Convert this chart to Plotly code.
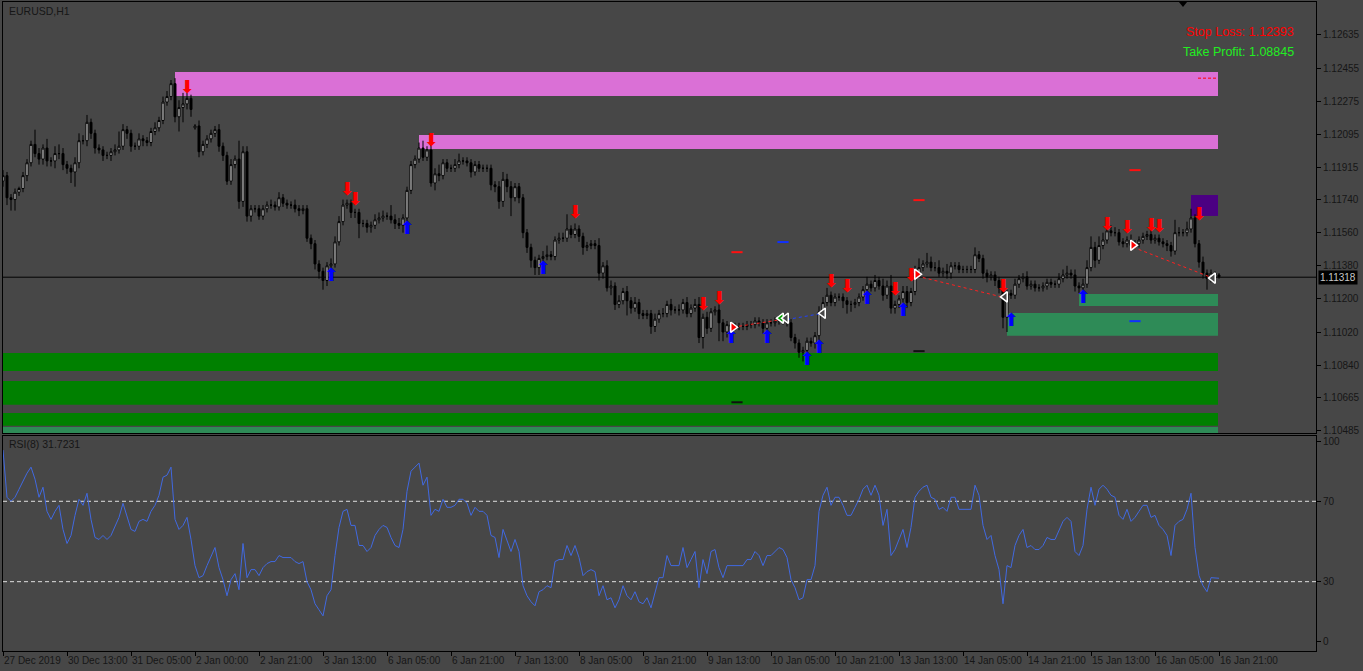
import plotly.graph_objects as go

# ---------------- DATA ----------------
BASE = 1.1000          # prices are given in pips above this base
PIP = 0.0001

close_pips = [
    187, 175, 174, 178, 180, 187, 194, 204, 199, 196,
    202, 195, 195, 199, 199, 193, 191, 189, 194, 206,
    206, 216, 210, 202, 201, 198, 198, 200, 201, 203,
    212, 210, 203, 203, 207, 206, 205, 211, 213, 217,
    227, 230, 237, 219, 224, 226, 229, 223, 214, 200,
    204, 207, 210, 212, 203, 198, 184, 193, 196, 173,
    200, 165, 169, 169, 165, 169, 171, 171, 170, 175,
    172, 171, 171, 169, 168, 169, 153, 150, 139, 135,
    130, 138, 139, 151, 162, 171, 172, 167, 167, 161,
    161, 159, 160, 163, 164, 165, 165, 163, 161, 160,
    164, 179, 193, 196, 202, 197, 201, 183, 188, 187,
    194, 191, 191, 193, 195, 195, 194, 189, 193, 191,
    191, 191, 182, 181, 173, 185, 181, 175, 181, 175,
    156, 148, 141, 137, 142, 143, 144, 143, 152, 153,
    153, 158, 155, 158, 154, 148, 149, 150, 149, 134,
    138, 126, 127, 117, 119, 124, 119, 115, 118, 112,
    111, 112, 105, 109, 112, 112, 117, 114, 114, 114,
    118, 112, 115, 117, 99, 110, 104, 113, 114, 107,
    102, 106, 105, 105, 105, 105, 106, 106, 108, 107,
    104, 107, 107, 108, 109, 108, 107, 99, 96, 91,
    92, 97, 96, 100, 113, 118, 122, 118, 121, 121,
    119, 117, 117, 118, 121, 125, 128, 126, 130, 127,
    122, 127, 115, 117, 120, 124, 118, 124, 134, 137,
    139, 140, 137, 137, 134, 135, 134, 138, 138, 136,
    136, 136, 136, 144, 142, 134, 132, 133, 130, 126,
    110, 123, 122, 128, 131, 132, 127, 128, 126, 126,
    127, 129, 128, 128, 131, 133, 134, 133, 127, 126,
    128, 137, 148, 141, 149, 152, 157, 156, 156, 151,
    150, 152, 149, 150, 152, 154, 155, 152, 153, 151,
    150, 149, 146, 156, 156, 156, 158, 164, 150, 140,
    134, 131, 134, 133, 132,
]
upper_wick_pips = [
    3, 2, 2, 2, 1, 2, 2, 2, 8, 3,
    2, 5, 2, 4, 5, 3, 2, 2, 3, 4,
    3, 4, 2, 2, 2, 2, 2, 2, 3, 8,
    3, 2, 2, 2, 3, 2, 2, 2, 3, 2,
    3, 3, 2, 3, 4, 6, 3, 2, 1, 3,
    2, 2, 2, 2, 3, 2, 2, 3, 2, 10,
    3, 3, 2, 2, 2, 2, 2, 3, 2, 3,
    2, 2, 2, 3, 2, 2, 2, 2, 2, 2,
    2, 2, 3, 3, 3, 3, 2, 2, 2, 2,
    2, 2, 2, 3, 3, 3, 2, 6, 3, 3,
    2, 2, 2, 2, 3, 4, 2, 4, 3, 5,
    2, 2, 2, 3, 4, 2, 2, 2, 2, 2,
    2, 2, 2, 2, 3, 4, 3, 3, 2, 2,
    2, 2, 2, 2, 2, 3, 5, 2, 2, 3,
    3, 8, 2, 3, 2, 2, 2, 2, 2, 4,
    2, 3, 3, 2, 3, 2, 3, 2, 3, 2,
    2, 2, 2, 3, 2, 3, 2, 3, 2, 3,
    2, 3, 2, 3, 4, 2, 3, 2, 2, 3,
    2, 2, 2, 2, 2, 2, 2, 2, 2, 2,
    2, 2, 2, 2, 2, 2, 2, 2, 2, 2,
    2, 2, 2, 2, 3, 3, 4, 2, 2, 2,
    2, 2, 2, 2, 2, 2, 4, 2, 3, 2,
    4, 3, 6, 2, 2, 3, 3, 2, 4, 5,
    2, 5, 3, 3, 4, 2, 4, 2, 2, 2,
    2, 2, 2, 4, 2, 2, 2, 2, 2, 2,
    3, 2, 2, 3, 2, 2, 3, 2, 2, 2,
    2, 2, 2, 2, 3, 3, 4, 2, 3, 2,
    3, 4, 6, 3, 5, 4, 5, 3, 3, 2,
    2, 2, 3, 2, 2, 2, 2, 4, 2, 2,
    2, 2, 2, 7, 3, 2, 4, 5, 2, 2,
    3, 2, 2, 1, 1,
]
lower_wick_pips = [
    3, 4, 6, 6, 2, 2, 3, 2, 2, 3,
    3, 3, 3, 4, 3, 3, 3, 6, 8, 3,
    2, 3, 3, 3, 2, 3, 2, 3, 2, 2,
    2, 3, 3, 2, 2, 3, 2, 2, 2, 2,
    2, 2, 2, 3, 8, 8, 3, 4, 1, 3,
    2, 2, 2, 2, 3, 3, 2, 2, 2, 4,
    3, 3, 3, 2, 2, 2, 2, 2, 2, 2,
    2, 2, 2, 2, 3, 2, 2, 3, 3, 4,
    5, 3, 3, 2, 2, 2, 2, 3, 3, 8,
    2, 3, 3, 2, 2, 2, 2, 2, 3, 2,
    4, 3, 2, 2, 2, 2, 2, 2, 4, 3,
    2, 2, 2, 2, 2, 2, 2, 3, 2, 2,
    2, 2, 3, 3, 4, 3, 3, 10, 2, 3,
    3, 3, 4, 4, 4, 2, 2, 2, 2, 2,
    2, 2, 2, 2, 3, 4, 2, 2, 2, 4,
    3, 2, 4, 3, 2, 2, 8, 3, 2, 3,
    2, 2, 4, 3, 2, 2, 2, 3, 2, 3,
    2, 2, 2, 2, 3, 6, 3, 2, 2, 10,
    5, 3, 2, 2, 2, 2, 2, 2, 2, 2,
    3, 2, 2, 2, 2, 2, 2, 2, 3, 3,
    5, 3, 2, 3, 3, 2, 2, 2, 2, 2,
    4, 5, 4, 2, 2, 2, 2, 2, 2, 2,
    3, 2, 3, 3, 2, 2, 3, 2, 2, 2,
    2, 2, 2, 2, 2, 2, 3, 3, 2, 2,
    2, 2, 2, 2, 2, 3, 3, 2, 3, 3,
    6, 8, 2, 2, 2, 2, 2, 2, 2, 2,
    2, 2, 2, 2, 2, 2, 2, 2, 3, 3,
    3, 2, 2, 4, 2, 2, 2, 2, 2, 2,
    2, 2, 2, 2, 2, 2, 2, 2, 2, 2,
    2, 3, 3, 2, 2, 2, 2, 2, 2, 3,
    3, 6, 2, 2, 1,
]
first_open_pips = 184
gap_open_pips = {48: 213}

# RSI(8) values, one per bar
rsi_values = [
    95.5, 72, 70, 72, 76, 80, 84, 87, 81, 72,
    77, 65, 61, 65, 68, 56, 49, 53, 63, 71,
    68, 74, 61, 52, 51, 53, 51, 53, 58, 62,
    69, 63, 56, 55, 60, 61, 60, 65, 68, 73,
    82, 83, 87, 61, 56, 58, 62, 51, 38, 32,
    33, 38, 43, 47, 37, 31, 23, 31, 34, 26,
    49, 32, 36, 36, 33, 37, 39, 40, 40, 43,
    42, 42, 42, 40, 39, 40, 30, 26, 19, 16,
    13, 23, 26, 43, 57, 65, 66, 58, 58, 48,
    48, 45, 47, 53, 56, 58, 57, 52, 48, 47,
    56, 75, 85, 87, 89, 78, 82, 63, 66, 65,
    71, 67, 67, 68, 71, 71, 69, 63, 67, 65,
    65, 63, 53, 52, 42, 56, 51, 45, 51, 45,
    28, 23, 20, 18, 25, 26, 28, 27, 40, 41,
    41, 48, 43, 48, 42, 33, 35, 36, 35, 23,
    28, 21, 22, 17, 21, 28, 23, 21, 25, 20,
    19, 22, 17, 25, 32, 32, 43, 38, 38, 38,
    47, 37, 41, 45, 27, 41, 34, 45, 46, 37,
    32, 38, 38, 38, 38, 38, 41, 41, 45, 43,
    38, 43, 43, 45, 47, 46, 42, 31, 27, 21,
    22, 31, 31, 38, 65, 73, 77, 68, 72, 72,
    68, 63, 63, 67, 71, 76, 78, 73, 78, 73,
    58, 66, 43, 46, 51, 56, 47, 57, 72, 75,
    77, 78, 72, 71, 66, 67, 65, 72, 72, 66,
    66, 66, 66, 78, 73, 58, 51, 53, 43, 36,
    19, 38, 37, 48, 53, 56, 47, 48, 46, 46,
    48, 52, 51, 51, 56, 60, 62, 60, 45, 43,
    48, 66, 77, 68, 76, 78, 76, 73, 72, 63,
    61, 66, 60, 62, 65, 68, 68, 62, 63, 58,
    56, 53, 43, 58, 60, 61, 66, 74, 47, 33,
    28, 25, 32, 32, 31.7,
]

time_tick_bars = [0, 16, 32, 48, 64, 80, 96, 112, 128, 144,
                  160, 176, 192, 208, 224, 240, 256, 272, 288, 304]
time_tick_labels = ["27 Dec 2019", "30 Dec 13:00", "31 Dec 05:00", "2 Jan 00:00",
                    "2 Jan 21:00", "3 Jan 13:00", "6 Jan 05:00", "6 Jan 21:00",
                    "7 Jan 13:00", "8 Jan 05:00", "8 Jan 21:00", "9 Jan 13:00",
                    "10 Jan 05:00", "10 Jan 21:00", "13 Jan 13:00", "14 Jan 05:00",
                    "14 Jan 21:00", "15 Jan 13:00", "16 Jan 05:00", "16 Jan 21:00"]
price_ticks = [1.12635, 1.12455, 1.12275, 1.12095, 1.11915, 1.11740, 1.11560,
               1.11380, 1.11200, 1.11020, 1.10840, 1.10665, 1.10485]
rsi_ticks = [0, 30, 70, 100]
rsi_levels = [70, 30]
bid_price = 1.11318
stop_loss = 1.12393
take_profit = 1.08845
sl_line_price = 1.12400
rsi_last = 31.7231

# zones: (start bar, end bar, top price, bottom price)
supply_zones = [(43, 303.75, 1.12434, 1.12303), (104, 303.75, 1.12091, 1.12015)]
demand_zones = [(0, 303.75, 1.10906, 1.10808), (0, 303.75, 1.10754, 1.10624),
                (0, 303.75, 1.10580, 1.10510)]
weak_demand_zones = [(0, 303.75, 1.10504, 1.10471), (269, 303.75, 1.11227, 1.11162),
                     (251, 303.75, 1.11124, 1.10999)]
purple_zones = [(297, 303.75, 1.11765, 1.11651)]

sell_arrow_bars = [46, 86, 88, 107, 143, 175, 179, 207, 211, 223, 227, 250, 276, 281, 287, 289, 299]
sell_arrow_pips = [234.6, 179.1, 173.7, 205.5, 166.6, 116.6, 119.8, 128.8, 126.1, 124.7,
                   132.1, 126.1, 159.8, 158.2, 159.3, 158.7, 165.3]
buy_arrow_bars = [82, 101, 135, 182, 191, 201, 204, 216, 225, 252, 270]
buy_arrow_pips = [132.1, 157.7, 135.9, 98.4, 98.4, 86.7, 92.9, 119.6, 113.3, 107.9, 120.1]

open_mark_bars = [182.5, 228.5, 282.5]
open_mark_pips = [104.6, 133.4, 149.2]
green_mark_bars = [194.5]
green_mark_pips = [109.5]
close_mark_bars = [195.75, 205, 250.5, 302.5]
close_mark_pips = [109.5, 112.2, 121.1, 131.3]

trade_lines = [((182.5, 104.6), (194.0, 108.6), "#ff2020"),
               ((196.0, 108.8), (205.0, 112.2), "#2040ff"),
               ((228.5, 132.4), (250.0, 120.9), "#ff2020"),
               ((282.5, 148.1), (302.5, 131.3), "#ff2020")]
level_dash_bars = [195, 183.5, 229, 283, 229, 183.5, 283]
level_dash_pips = [150.9, 145.4, 173.7, 190.0, 91.6, 63.8, 107.9]
level_dash_colors = ["#1030ff", "#ff1010", "#ff1010", "#ff1010", "#101010", "#101010", "#1030ff"]

# ---------------- BUILD ----------------
n = len(close_pips)
bars = list(range(n))
closes = [BASE + c * PIP for c in close_pips]
open_p = [first_open_pips] + close_pips[:-1]
for k, v in gap_open_pips.items():
    open_p[k] = v
opens = [BASE + o * PIP for o in open_p]
highs = [BASE + (max(o, c) + u) * PIP for o, c, u in zip(open_p, close_pips, upper_wick_pips)]
lows = [BASE + (min(o, c) - d) * PIP for o, c, d in zip(open_p, close_pips, lower_wick_pips)]

BG = "#474747"
TXT = "#161616"
FONT = "Liberation Sans, Arial, sans-serif"
XMAX = 328.25
YMIN, YMAX = 1.10471, 1.12814

fig = go.Figure()

fig.add_trace(go.Candlestick(
    x=bars, open=opens, high=highs, low=lows, close=closes,
    increasing=dict(fillcolor="#ffffff", line=dict(color="#000000", width=1)),
    decreasing=dict(fillcolor="#000000", line=dict(color="#000000", width=1)),
    whiskerwidth=0, showlegend=False, hoverinfo="skip", xaxis="x", yaxis="y"))

for (a, b, col) in trade_lines:
    fig.add_trace(go.Scatter(x=[a[0], b[0]], y=[BASE + a[1] * PIP, BASE + b[1] * PIP],
                             mode="lines", line=dict(color=col, width=1, dash="3px,3px"),
                             showlegend=False, hoverinfo="skip", xaxis="x", yaxis="y"))

fig.add_trace(go.Scatter(x=level_dash_bars, y=[BASE + p * PIP for p in level_dash_pips],
                         mode="markers", marker=dict(symbol="line-ew", size=8,
                                                     line=dict(color=level_dash_colors, width=2)),
                         showlegend=False, hoverinfo="skip", xaxis="x", yaxis="y"))

# signal arrows (arrow glyphs, as the terminal draws them)
fig.add_trace(go.Scatter(x=sell_arrow_bars, y=[BASE + p * PIP for p in sell_arrow_pips],
                         mode="text", text=["⬇"] * len(sell_arrow_bars),
                         textposition="middle center",
                         textfont=dict(color="#ff0000", size=18, family="DejaVu Sans"),
                         showlegend=False, hoverinfo="skip", xaxis="x", yaxis="y"))
fig.add_trace(go.Scatter(x=buy_arrow_bars, y=[BASE + p * PIP for p in buy_arrow_pips],
                         mode="text", text=["⬆"] * len(buy_arrow_bars),
                         textposition="middle center",
                         textfont=dict(color="#0000ff", size=18, family="DejaVu Sans"),
                         showlegend=False, hoverinfo="skip", xaxis="x", yaxis="y"))

fig.add_trace(go.Scatter(x=open_mark_bars, y=[BASE + p * PIP for p in open_mark_pips],
                         mode="markers", marker=dict(symbol="triangle-right", size=9, color="#ff0000",
                                                     line=dict(color="#ffffff", width=1.5)),
                         showlegend=False, hoverinfo="skip", xaxis="x", yaxis="y"))
fig.add_trace(go.Scatter(x=green_mark_bars, y=[BASE + p * PIP for p in green_mark_pips],
                         mode="markers", marker=dict(symbol="triangle-left", size=9, color="#00a000",
                                                     line=dict(color="#ffffff", width=1.5)),
                         showlegend=False, hoverinfo="skip", xaxis="x", yaxis="y"))
fig.add_trace(go.Scatter(x=close_mark_bars, y=[BASE + p * PIP for p in close_mark_pips],
                         mode="markers", marker=dict(symbol="triangle-left", size=9, color=BG,
                                                     line=dict(color="#ffffff", width=1.5)),
                         showlegend=False, hoverinfo="skip", xaxis="x", yaxis="y"))

fig.add_trace(go.Scatter(x=bars, y=rsi_values, mode="lines", line=dict(color="#4169e1", width=1),
                         showlegend=False, hoverinfo="skip", xaxis="x2", yaxis="y2"))

shapes = []
def zone(z, color):
    return dict(type="rect", xref="x", yref="y", x0=z[0], x1=z[1], y0=z[3], y1=z[2],
                fillcolor=color, line=dict(width=0), layer="below")
for z in supply_zones:
    shapes.append(zone(z, "#da70d6"))
for z in demand_zones:
    shapes.append(zone(z, "#008000"))
for z in weak_demand_zones:
    shapes.append(zone(z, "#2e8b57"))
for z in purple_zones:
    shapes.append(zone(z, "#4b0082"))
shapes.append(dict(type="line", xref="x", yref="y", x0=298.75, x1=303.75, y0=sl_line_price,
                   y1=sl_line_price, line=dict(color="#ff0000", width=1, dash="3px,2px"),
                   layer="above"))
shapes.append(dict(type="line", xref="paper", yref="y", x0=0, x1=1, y0=bid_price, y1=bid_price,
                   line=dict(color="#000000", width=1), layer="below"))
for lv in rsi_levels:
    shapes.append(dict(type="line", xref="paper", yref="y2", x0=0, x1=1, y0=lv, y1=lv,
                       line=dict(color="#e0e0e0", width=1, dash="4px,3px"), layer="below"))
# chart-shift marker
shapes.append(dict(type="path", xref="paper", yref="paper",
                   path="M 0.8956 1.0 L 0.9018 1.0 L 0.8987 0.9923 Z",
                   fillcolor="#000000", line=dict(width=0)))

annotations = []
for b, t in zip(time_tick_bars, time_tick_labels):
    annotations.append(dict(x=b, y=0, xref="x2", yref="paper", text=t, showarrow=False,
                            xanchor="left", yanchor="top", xshift=-1, yshift=-2,
                            font=dict(family=FONT, size=10, color=TXT)))
annotations.append(dict(x=0.003, y=0.9861, xref="paper", yref="paper", text="EURUSD,H1",
                        showarrow=False, xanchor="left", yanchor="middle",
                        font=dict(family=FONT, size=10.5, color=TXT)))
annotations.append(dict(x=0.003, y=0.319, xref="paper", yref="paper",
                        text="RSI(8) %.4f" % rsi_last, showarrow=False, xanchor="left",
                        yanchor="middle", font=dict(family=FONT, size=10.5, color=TXT)))
annotations.append(dict(x=0.9848, y=0.9545, xref="paper", yref="paper",
                        text="Stop Loss: %.5f" % stop_loss, showarrow=False, xanchor="right",
                        yanchor="middle", font=dict(family=FONT, size=12.5, color="#ff0000")))
annotations.append(dict(x=0.9848, y=0.923, xref="paper", yref="paper",
                        text="Take Profit: %.5f" % take_profit, showarrow=False, xanchor="right",
                        yanchor="middle", font=dict(family=FONT, size=12.5, color="#22ee22")))
annotations.append(dict(x=1.0, y=bid_price, xref="paper", yref="y", text="%.5f" % bid_price,
                        showarrow=False, xanchor="left", yanchor="middle", xshift=2,
                        bgcolor="#000000", borderpad=1,
                        font=dict(family=FONT, size=10, color="#c8c8c8")))

axis_common = dict(showgrid=False, zeroline=False, showline=True, mirror=True,
                   linecolor="#000000", linewidth=1)

fig.update_layout(
    width=1363, height=671, autosize=False,
    margin=dict(l=3, r=47, t=2, b=20),
    paper_bgcolor=BG, plot_bgcolor=BG,
    showlegend=False,
    shapes=shapes, annotations=annotations,
    xaxis=dict(domain=[0, 1], range=[0, XMAX], anchor="y", showticklabels=False,
               ticks="", rangeslider=dict(visible=False), **axis_common),
    yaxis=dict(domain=[0.3359, 1.0], range=[YMIN, YMAX], side="right", anchor="x",
               tickvals=price_ticks, ticktext=["%.5f" % p for p in price_ticks],
               ticks="outside", ticklen=4, tickcolor="#000000",
               tickfont=dict(family=FONT, size=10, color=TXT), **axis_common),
    xaxis2=dict(domain=[0, 1], range=[0, XMAX], anchor="y2", matches="x",
                tickvals=time_tick_bars, showticklabels=False, ticks="outside", ticklen=4,
                tickcolor="#000000", **axis_common),
    yaxis2=dict(domain=[0, 0.3313], range=[-4.5, 102.5], side="right", anchor="x2",
                tickvals=rsi_ticks, ticktext=[str(v) for v in rsi_ticks],
                ticks="outside", ticklen=4, tickcolor="#000000",
                tickfont=dict(family=FONT, size=10, color=TXT), **axis_common),
)

fig.write_html("out.html")
